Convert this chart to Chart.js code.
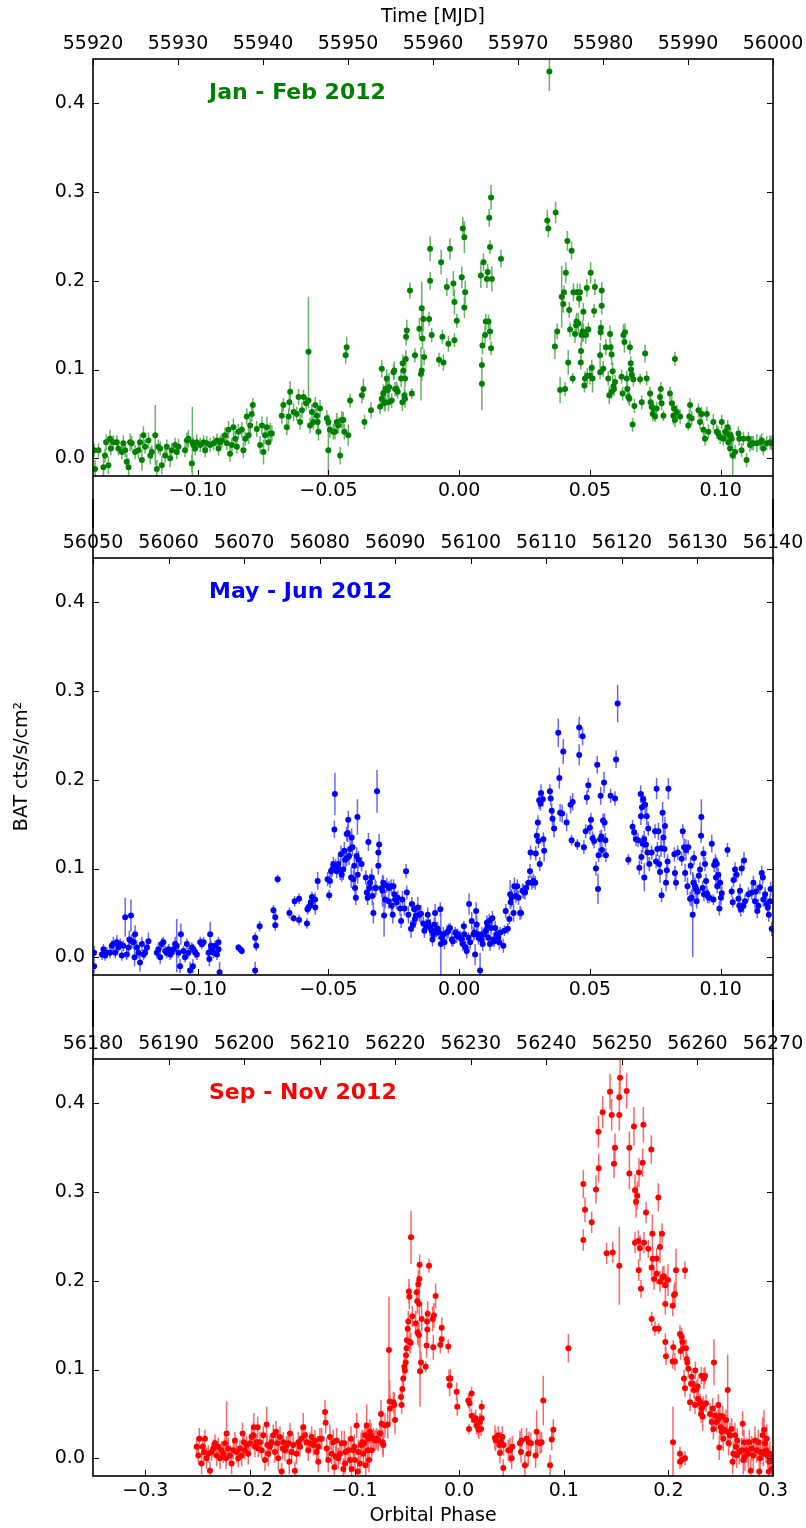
<!DOCTYPE html>
<html>
<head>
<meta charset="utf-8">
<script src="https://cdn.jsdelivr.net/npm/chart.js@4/dist/chart.umd.min.js"></script>
<style>
  html, body { margin: 0; padding: 0; background: #fff; }
  #wrap { position: relative; width: 806px; height: 1528px; overflow: hidden; background: #fff; }
  #wrap canvas { position: absolute; left: 0; }
</style>
</head>
<body>
<div id="wrap">
  <canvas id="panelJanFeb" width="806" height="528" style="top:0px"></canvas>
  <canvas id="panelMayJun" width="806" height="528" style="top:499px"></canvas>
  <canvas id="panelSepNov" width="806" height="528" style="top:1000px"></canvas>
</div>
<script>
// ---- axis settings -------------------------------------------------------
const rateTicks = [0.0, 0.1, 0.2, 0.3, 0.4];
const phaseTicksNarrow = [-0.10, -0.05, 0.00, 0.05, 0.10];
const phaseTicksWide = [-0.3, -0.2, -0.1, 0.0, 0.1, 0.2, 0.3];
const mjdTicksJanFeb = [55920, 55930, 55940, 55950, 55960, 55970, 55980, 55990, 56000];
const mjdTicksMayJun = [56050, 56060, 56070, 56080, 56090, 56100, 56110, 56120, 56130, 56140];
const mjdTicksSepNov = [56180, 56190, 56200, 56210, 56220, 56230, 56240, 56250, 56260, 56270];

// ---- BAT light curves: [orbital phase, rate (cts/s/cm^2), 1-sigma error] ----
const janFebPoints = [
[-0.1396,0.009,0.008],[-0.1392,-0.012,0.010],[-0.1379,0.009,0.008],[-0.1360,-0.010,0.010],[-0.1354,0.003,0.008],[-0.1350,0.018,0.009],[-0.1341,-0.008,0.010],[-0.1335,0.022,0.010],[-0.1332,0.011,0.008],[-0.1322,0.018,0.008],[-0.1309,0.018,0.008],[-0.1303,0.011,0.008],[-0.1290,0.007,0.008],[-0.1284,0.017,0.009],[-0.1277,0.009,0.008],[-0.1271,-0.004,0.009],[-0.1264,-0.010,0.010],[-0.1258,0.018,0.010],[-0.1252,0.017,0.008],[-0.1239,0.007,0.008],[-0.1226,0.009,0.010],[-0.1220,0.018,0.009],[-0.1213,-0.002,0.012],[-0.1207,0.026,0.010],[-0.1201,0.013,0.008],[-0.1188,0.020,0.009],[-0.1181,0.003,0.010],[-0.1175,0.007,0.008],[-0.1162,0.026,0.034],[-0.1156,-0.012,0.010],[-0.1150,0.013,0.008],[-0.1143,0.011,0.008],[-0.1137,-0.008,0.010],[-0.1124,0.003,0.008],[-0.1118,0.013,0.008],[-0.1105,0.000,0.010],[-0.1099,0.009,0.008],[-0.1086,0.015,0.008],[-0.1080,0.007,0.008],[-0.1073,0.013,0.009],[-0.1048,0.009,0.008],[-0.1041,0.020,0.009],[-0.1035,0.022,0.010],[-0.1022,-0.006,0.010],[-0.1020,0.018,0.040],[-0.1016,0.015,0.008],[-0.1009,0.011,0.008],[-0.1003,0.018,0.009],[-0.0990,0.015,0.008],[-0.0977,0.018,0.008],[-0.0971,0.009,0.008],[-0.0965,0.017,0.008],[-0.0952,0.015,0.008],[-0.0939,0.017,0.008],[-0.0926,0.020,0.008],[-0.0920,0.011,0.008],[-0.0914,0.018,0.008],[-0.0907,0.020,0.008],[-0.0895,0.026,0.009],[-0.0888,0.017,0.008],[-0.0882,0.032,0.010],[-0.0876,0.005,0.009],[-0.0869,0.015,0.008],[-0.0863,0.035,0.010],[-0.0856,0.022,0.009],[-0.0850,0.013,0.008],[-0.0844,0.030,0.009],[-0.0831,0.032,0.009],[-0.0825,0.009,0.009],[-0.0818,0.022,0.008],[-0.0812,0.047,0.009],[-0.0805,0.026,0.010],[-0.0799,0.037,0.009],[-0.0793,0.050,0.009],[-0.0789,0.060,0.008],[-0.0774,0.033,0.009],[-0.0761,0.015,0.010],[-0.0754,0.037,0.010],[-0.0748,0.007,0.014],[-0.0742,0.026,0.010],[-0.0735,0.035,0.012],[-0.0729,0.018,0.010],[-0.0722,0.028,0.012],[-0.0716,0.028,0.009],
[-0.0678,0.048,0.009],[-0.0672,0.060,0.008],[-0.0659,0.035,0.009],[-0.0652,0.047,0.009],[-0.0649,0.063,0.010],[-0.0646,0.075,0.012],[-0.0633,0.052,0.010],[-0.0621,0.050,0.008],[-0.0614,0.069,0.009],[-0.0608,0.041,0.009],[-0.0601,0.054,0.009],[-0.0595,0.069,0.008],[-0.0585,0.062,0.008],[-0.0576,0.120,0.062],[-0.0576,0.065,0.009],[-0.0570,0.037,0.009],[-0.0563,0.052,0.009],[-0.0557,0.041,0.009],[-0.0550,0.060,0.009],[-0.0544,0.048,0.009],[-0.0538,0.030,0.010],
[-0.0541,0.041,0.009],[-0.0532,0.056,0.010],[-0.0506,0.045,0.009],[-0.0500,0.009,0.030],[-0.0500,0.041,0.008],[-0.0494,0.032,0.009],[-0.0481,0.030,0.009],[-0.0475,0.030,0.009],[-0.0468,0.041,0.010],[-0.0462,0.037,0.009],[-0.0455,0.003,0.010],[-0.0449,0.043,0.010],[-0.0443,0.043,0.009],[-0.0439,0.030,0.009],[-0.0434,0.116,0.010],[-0.0430,0.125,0.012],[-0.0424,0.026,0.012],[-0.0417,0.065,0.008],[-0.0372,0.071,0.009],[-0.0366,0.078,0.012],[-0.0362,0.041,0.008],[-0.0337,0.054,0.009],[-0.0302,0.058,0.008],[-0.0296,0.067,0.010],[-0.0296,0.101,0.010],[-0.0290,0.073,0.010],[-0.0286,0.062,0.009],[-0.0283,0.063,0.010],[-0.0281,0.078,0.012],[-0.0277,0.090,0.010],[-0.0273,0.077,0.010],[-0.0270,0.063,0.010],[-0.0268,0.080,0.016],[-0.0258,0.065,0.008],[-0.0251,0.097,0.009],[-0.0248,0.099,0.010],[-0.0245,0.078,0.008],[-0.0239,0.078,0.008],[-0.0235,0.075,0.008],[-0.0222,0.090,0.010],[-0.0217,0.063,0.010],[-0.0216,0.107,0.010],[-0.0213,0.099,0.012],[-0.0209,0.071,0.010],[-0.0207,0.067,0.010],[-0.0207,0.090,0.010],[-0.0204,0.112,0.010],[-0.0203,0.137,0.010],[-0.0200,0.144,0.012],[-0.0188,0.189,0.009],[-0.0181,0.073,0.006],[-0.0169,0.116,0.008],[-0.0152,0.146,0.012],[-0.0146,0.095,0.030],[-0.0143,0.099,0.012],[-0.0143,0.169,0.030],[-0.0140,0.135,0.012],[-0.0137,0.157,0.014],[-0.0134,0.114,0.009],[-0.0115,0.157,0.008],[-0.0111,0.200,0.010],[-0.0111,0.236,0.014],[-0.0105,0.139,0.008],[-0.0077,0.111,0.008],[-0.0069,0.221,0.014],[-0.0064,0.137,0.008],[-0.0060,0.108,0.009],[-0.0047,0.193,0.010],[-0.0041,0.129,0.009],[-0.0035,0.236,0.012],[-0.0022,0.197,0.014],[-0.0018,0.176,0.014],[-0.0018,0.133,0.008],[-0.0009,0.155,0.008],[0.0010,0.204,0.012],[0.0014,0.259,0.013],[0.0020,0.249,0.018],[0.0020,0.170,0.012],[0.0023,0.187,0.013],[0.0083,0.206,0.014],[0.0087,0.084,0.030],[0.0087,0.105,0.008],[0.0089,0.127,0.010],[0.0093,0.221,0.010],[0.0099,0.139,0.010],[0.0102,0.154,0.009],[0.0106,0.202,0.010],[0.0109,0.210,0.009],[0.0112,0.154,0.008],[0.0115,0.271,0.010],[0.0118,0.143,0.010],[0.0118,0.238,0.008],[0.0122,0.124,0.008],[0.0122,0.294,0.014],[0.0125,0.202,0.014],[0.0160,0.225,0.010],
[0.0345,0.436,0.022],[0.0337,0.268,0.012],[0.0341,0.259,0.010],[0.0369,0.277,0.012],[0.0366,0.126,0.014],[0.0375,0.143,0.009],[0.0386,0.077,0.015],[0.0392,0.182,0.035],[0.0398,0.174,0.010],[0.0401,0.187,0.008],[0.0405,0.078,0.008],[0.0408,0.209,0.012],[0.0414,0.245,0.011],[0.0417,0.108,0.014],[0.0421,0.167,0.009],[0.0424,0.145,0.008],[0.0430,0.234,0.010],[0.0434,0.090,0.006],[0.0437,0.187,0.010],[0.0443,0.140,0.010],[0.0447,0.150,0.010],[0.0449,0.154,0.010],[0.0452,0.187,0.010],[0.0456,0.152,0.012],[0.0459,0.180,0.010],[0.0462,0.187,0.010],[0.0465,0.108,0.008],[0.0466,0.121,0.010],[0.0468,0.139,0.012],[0.0472,0.143,0.012],[0.0475,0.165,0.010],[0.0475,0.142,0.010],[0.0479,0.082,0.008],[0.0481,0.090,0.008],[0.0484,0.139,0.010],[0.0488,0.192,0.010],[0.0490,0.093,0.009],[0.0494,0.145,0.008],[0.0500,0.093,0.010],[0.0503,0.209,0.012],[0.0507,0.102,0.009],[0.0510,0.090,0.016],[0.0516,0.166,0.008],[0.0519,0.193,0.009],[0.0539,0.097,0.008],[0.0539,0.116,0.014],[0.0541,0.142,0.009],[0.0542,0.147,0.009],[0.0545,0.172,0.010],[0.0545,0.189,0.010],[0.0551,0.101,0.009],[0.0561,0.125,0.009],[0.0570,0.090,0.008],[0.0574,0.071,0.010],[0.0577,0.140,0.010],[0.0579,0.125,0.008],[0.0583,0.075,0.008],[0.0583,0.117,0.012],[0.0587,0.098,0.010],[0.0590,0.081,0.008],[0.0592,0.078,0.008],[0.0596,0.086,0.008],[0.0621,0.092,0.008],[0.0625,0.073,0.008],[0.0628,0.139,0.012],[0.0632,0.131,0.012],[0.0634,0.142,0.010],[0.0641,0.090,0.009],[0.0643,0.078,0.009],[0.0647,0.069,0.008],[0.0651,0.067,0.008],[0.0653,0.125,0.008],[0.0656,0.107,0.008],[0.0657,0.100,0.010],[0.0660,0.094,0.008],[0.0663,0.038,0.008],[0.0666,0.089,0.008],[0.0670,0.059,0.008],[0.0692,0.089,0.006],[0.0698,0.063,0.008],[0.0711,0.118,0.010],[0.0717,0.090,0.008],[0.0730,0.073,0.008],[0.0732,0.063,0.008],[0.0736,0.058,0.008],[0.0740,0.050,0.008],[0.0743,0.056,0.008],[0.0749,0.047,0.006],[0.0755,0.056,0.008],[0.0768,0.069,0.008],[0.0771,0.078,0.008],[0.0774,0.062,0.008],[0.0781,0.048,0.006],[0.0806,0.073,0.008],[0.0813,0.062,0.008],[0.0819,0.048,0.010],[0.0822,0.056,0.008],[0.0825,0.112,0.008],[0.0825,0.043,0.008],[0.0832,0.052,0.008],[0.0845,0.047,0.008],[0.0876,0.037,0.006],[0.0880,0.047,0.008],[0.0883,0.060,0.008],[0.0889,0.045,0.008],[0.0915,0.054,0.008],[0.0921,0.041,0.008],[0.0927,0.050,0.008],[0.0934,0.032,0.008],[0.0940,0.022,0.008],[0.0947,0.050,0.008],[0.0953,0.030,0.008],[0.0972,0.041,0.009],[0.0985,0.030,0.008],[0.0991,0.028,0.008],[0.0998,0.024,0.008],[0.1004,0.041,0.008],[0.1010,0.022,0.008],[0.1017,0.030,0.008],[0.1023,0.028,0.008],[0.1027,0.035,0.008],[0.1029,0.018,0.008],[0.1033,0.026,0.008],[0.1036,0.011,0.008],[0.1038,0.026,0.008],[0.1042,0.022,0.008],[0.1046,0.003,0.022],[0.1055,0.007,0.008],[0.1068,0.028,0.008],[0.1071,0.022,0.008],[0.1080,0.009,0.008],[0.1087,0.022,0.008],[0.1099,-0.002,0.008],[0.1106,0.022,0.008],[0.1112,0.015,0.008],[0.1119,0.017,0.008],[0.1125,0.017,0.008],[0.1138,0.017,0.010],[0.1151,0.018,0.008],[0.1157,0.020,0.008],[0.1163,0.011,0.008],[0.1176,0.017,0.008],[0.1189,0.018,0.008],[0.1195,0.017,0.008]
];

const mayJunPoints = [
[-0.1396,0.005,0.008],[-0.1396,-0.010,0.008],[-0.1366,0.003,0.006],[-0.1360,0.009,0.006],[-0.1354,0.002,0.006],[-0.1347,0.005,0.006],[-0.1335,0.005,0.006],[-0.1328,0.013,0.006],[-0.1322,0.015,0.008],[-0.1315,0.005,0.006],[-0.1309,0.017,0.008],[-0.1303,0.011,0.006],[-0.1296,0.015,0.006],[-0.1290,0.002,0.006],[-0.1284,0.013,0.006],[-0.1277,0.045,0.022],[-0.1271,0.003,0.006],[-0.1264,0.011,0.008],[-0.1261,0.020,0.010],[-0.1255,0.047,0.018],[-0.1252,0.018,0.008],[-0.1245,0.017,0.008],[-0.1241,0.000,0.010],[-0.1239,0.026,0.010],[-0.1232,0.011,0.008],[-0.1226,0.005,0.006],[-0.1220,-0.006,0.010],[-0.1213,0.015,0.008],[-0.1207,0.003,0.006],[-0.1201,0.005,0.006],[-0.1194,0.011,0.008],[-0.1188,0.018,0.010],[-0.1156,0.005,0.006],[-0.1150,0.009,0.008],[-0.1143,0.000,0.008],[-0.1137,0.015,0.006],[-0.1131,0.017,0.006],[-0.1124,0.007,0.006],[-0.1118,0.005,0.006],[-0.1111,0.009,0.006],[-0.1105,0.003,0.006],[-0.1099,0.005,0.006],[-0.1092,0.009,0.006],[-0.1086,0.015,0.008],[-0.1080,0.013,0.030],[-0.1073,0.005,0.006],[-0.1067,-0.010,0.008],[-0.1064,0.026,0.012],[-0.1054,0.007,0.006],[-0.1048,0.000,0.006],[-0.1041,0.015,0.006],[-0.1035,0.005,0.006],[-0.1029,-0.015,0.010],[-0.1022,0.011,0.006],[-0.1018,-0.010,0.008],[-0.1016,0.009,0.006],[-0.1009,0.005,0.006],[-0.1003,0.003,0.006],[-0.0990,0.017,0.006],[-0.0984,0.015,0.006],[-0.0977,0.017,0.006],[-0.0958,0.005,0.006],[-0.0955,-0.002,0.008],[-0.0952,0.026,0.014],[-0.0949,0.013,0.006],[-0.0946,0.009,0.006],[-0.0939,0.005,0.006],[-0.0933,0.013,0.006],[-0.0926,0.003,0.006],[-0.0920,0.017,0.006],[-0.0920,0.009,0.006],[-0.0916,-0.017,0.012],[-0.0844,0.011,0.004],[-0.0837,0.009,0.004],[-0.0831,0.007,0.004],[-0.0780,0.022,0.006],[-0.0780,-0.015,0.010],[-0.0776,0.013,0.006],[-0.0763,0.035,0.006],[-0.0710,0.053,0.006],[-0.0703,0.045,0.006],[-0.0703,0.036,0.006],[-0.0694,0.088,0.005],[-0.0649,0.050,0.006],[-0.0633,0.044,0.004],[-0.0629,0.063,0.006],[-0.0612,0.042,0.006],[-0.0612,0.066,0.006],[-0.0582,0.038,0.006],[-0.0580,0.054,0.006],[-0.0576,0.056,0.006],[-0.0570,0.058,0.006],[-0.0567,0.062,0.006],[-0.0563,0.068,0.006],[-0.0557,0.065,0.006],[-0.0550,0.056,0.008],[-0.0541,0.086,0.010],
[-0.0551,0.065,0.008],[-0.0503,0.088,0.008],[-0.0497,0.070,0.006],[-0.0494,0.086,0.008],[-0.0490,0.097,0.008],[-0.0485,0.099,0.008],[-0.0481,0.105,0.008],[-0.0477,0.144,0.010],[-0.0475,0.184,0.024],[-0.0472,0.103,0.008],[-0.0468,0.097,0.008],[-0.0462,0.105,0.010],[-0.0455,0.099,0.012],[-0.0452,0.116,0.010],[-0.0449,0.093,0.008],[-0.0443,0.099,0.012],[-0.0439,0.120,0.010],[-0.0436,0.110,0.012],[-0.0430,0.112,0.010],[-0.0430,0.139,0.008],[-0.0426,0.140,0.010],[-0.0424,0.155,0.010],[-0.0421,0.114,0.010],[-0.0417,0.122,0.012],[-0.0413,0.090,0.012],[-0.0411,0.135,0.010],[-0.0408,0.124,0.010],[-0.0404,0.088,0.010],[-0.0401,0.103,0.010],[-0.0398,0.078,0.008],[-0.0395,0.067,0.008],[-0.0392,0.114,0.010],[-0.0389,0.158,0.020],[-0.0388,0.093,0.010],[-0.0385,0.110,0.010],[-0.0373,0.105,0.008],[-0.0357,0.090,0.008],[-0.0353,0.073,0.010],[-0.0350,0.067,0.008],[-0.0347,0.130,0.010],[-0.0343,0.078,0.010],[-0.0341,0.084,0.010],[-0.0334,0.090,0.010],[-0.0332,0.069,0.010],[-0.0328,0.050,0.012],[-0.0321,0.078,0.010],[-0.0318,0.078,0.008],[-0.0314,0.187,0.024],[-0.0309,0.118,0.010],[-0.0309,0.103,0.010],[-0.0306,0.127,0.012],[-0.0296,0.078,0.010],[-0.0293,0.075,0.018],[-0.0290,0.084,0.008],[-0.0287,0.047,0.024],[-0.0283,0.065,0.010],[-0.0277,0.081,0.008],[-0.0270,0.063,0.008],[-0.0268,0.078,0.008],[-0.0260,0.080,0.008],[-0.0258,0.058,0.008],[-0.0254,0.048,0.010],[-0.0251,0.080,0.008],[-0.0248,0.071,0.008],[-0.0245,0.065,0.008],[-0.0239,0.062,0.008],[-0.0235,0.067,0.008],[-0.0226,0.055,0.008],[-0.0222,0.041,0.008],[-0.0217,0.065,0.010],[-0.0209,0.055,0.008],[-0.0203,0.097,0.008],[-0.0200,0.073,0.008],[-0.0194,0.048,0.010],[-0.0184,0.032,0.010],[-0.0181,0.060,0.008],[-0.0177,0.037,0.008],[-0.0171,0.054,0.008],[-0.0169,0.043,0.010],[-0.0165,0.047,0.010],[-0.0158,0.056,0.012],[-0.0152,0.048,0.008],[-0.0146,0.049,0.010],[-0.0137,0.038,0.008],[-0.0133,0.030,0.008],[-0.0126,0.035,0.008],[-0.0120,0.048,0.008],[-0.0118,0.039,0.008],[-0.0111,0.033,0.010],[-0.0105,0.030,0.008],[-0.0102,0.020,0.008],[-0.0098,0.026,0.008],[-0.0095,0.037,0.008],[-0.0092,0.050,0.010],[-0.0088,0.030,0.008],[-0.0082,0.032,0.008],[-0.0079,0.028,0.008],[-0.0072,0.054,0.008],[-0.0070,0.015,0.035],[-0.0066,0.022,0.008],[-0.0060,0.026,0.008],[-0.0056,0.017,0.008],[-0.0047,0.028,0.008],[-0.0041,0.030,0.008],[-0.0035,0.033,0.006],[-0.0028,0.020,0.008],[-0.0024,0.018,0.006],[-0.0015,0.028,0.006],[-0.0009,0.024,0.008],[-0.0005,0.026,0.006],[0.0004,0.022,0.008],[0.0010,0.020,0.008],[0.0014,0.015,0.008],[0.0018,0.035,0.006],[0.0020,0.026,0.008],[0.0025,0.011,0.008],[0.0029,0.007,0.008],[0.0036,0.022,0.006],[0.0038,0.060,0.012],[0.0042,0.017,0.008],[0.0048,0.041,0.010],[0.0055,0.026,0.008],[0.0058,0.028,0.008],[0.0061,0.003,0.012],[0.0065,0.052,0.010],[0.0067,0.037,0.010],[0.0071,0.026,0.008],[0.0074,0.022,0.008],[0.0080,-0.015,0.020],[0.0084,0.020,0.008],[0.0087,0.026,0.008],[0.0090,0.015,0.008],[0.0097,0.026,0.008],[0.0102,0.030,0.008],[0.0106,0.039,0.008],[0.0109,0.035,0.008],[0.0112,0.022,0.008],[0.0115,0.041,0.008],[0.0118,0.015,0.008],[0.0122,0.033,0.008],[0.0127,0.044,0.008],[0.0131,0.020,0.008],[0.0135,0.018,0.006],[0.0138,0.033,0.008],[0.0144,0.026,0.008],[0.0150,0.022,0.008],[0.0153,0.017,0.008],[0.0157,0.028,0.006],[0.0169,0.013,0.008],[0.0173,0.030,0.006],[0.0178,0.052,0.008],[0.0186,0.032,0.006],[0.0192,0.043,0.006],[0.0195,0.071,0.016],[0.0197,0.062,0.008],[0.0201,0.067,0.010],[0.0208,0.050,0.010],[0.0211,0.080,0.010],[0.0217,0.069,0.008],[0.0222,0.080,0.008],[0.0227,0.067,0.008],[0.0233,0.050,0.008],[0.0237,0.050,0.006],[0.0242,0.075,0.008],[0.0246,0.074,0.008],[0.0252,0.073,0.008],[0.0256,0.078,0.008],[0.0265,0.084,0.008],[0.0271,0.097,0.008],[0.0273,0.118,0.008],[0.0278,0.084,0.008],[0.0284,0.086,0.008],[0.0291,0.084,0.008],[0.0293,0.117,0.008],[0.0297,0.137,0.008],[0.0301,0.152,0.008],[0.0303,0.131,0.008],[0.0306,0.177,0.010],[0.0308,0.105,0.008],[0.0311,0.173,0.008],[0.0313,0.185,0.010],[0.0320,0.178,0.008],[0.0325,0.120,0.012],
[0.0322,0.133,0.008],[0.0347,0.187,0.008],[0.0350,0.179,0.008],[0.0354,0.165,0.008],[0.0357,0.156,0.008],[0.0363,0.145,0.010],[0.0379,0.253,0.016],[0.0383,0.202,0.012],[0.0386,0.163,0.010],[0.0394,0.162,0.010],[0.0398,0.232,0.014],[0.0411,0.152,0.010],[0.0426,0.172,0.010],[0.0430,0.132,0.006],[0.0434,0.175,0.010],[0.0452,0.127,0.006],[0.0459,0.259,0.012],[0.0459,0.228,0.012],[0.0472,0.249,0.010],[0.0477,0.124,0.008],[0.0484,0.142,0.008],[0.0488,0.180,0.008],[0.0494,0.194,0.008],[0.0500,0.146,0.008],[0.0504,0.155,0.008],[0.0510,0.134,0.008],[0.0516,0.131,0.008],[0.0523,0.100,0.008],[0.0528,0.217,0.010],[0.0531,0.077,0.017],[0.0533,0.115,0.008],[0.0539,0.133,0.010],[0.0541,0.182,0.010],[0.0544,0.136,0.008],[0.0546,0.121,0.008],[0.0550,0.154,0.008],[0.0554,0.197,0.012],[0.0556,0.152,0.010],[0.0559,0.132,0.008],[0.0561,0.115,0.008],[0.0579,0.182,0.008],[0.0596,0.179,0.008],[0.0600,0.223,0.010],[0.0606,0.286,0.021],[0.0647,0.110,0.006],[0.0663,0.147,0.008],[0.0669,0.141,0.008],[0.0676,0.133,0.008],[0.0684,0.132,0.008],[0.0689,0.101,0.008],[0.0694,0.184,0.010],[0.0695,0.159,0.010],[0.0697,0.113,0.008],[0.0699,0.169,0.010],[0.0702,0.128,0.010],[0.0704,0.178,0.008],[0.0707,0.133,0.010],[0.0708,0.090,0.016],[0.0711,0.172,0.010],[0.0714,0.127,0.010],[0.0717,0.159,0.010],[0.0720,0.118,0.010],[0.0723,0.145,0.008],[0.0727,0.105,0.008],[0.0736,0.118,0.008],[0.0749,0.142,0.008],[0.0753,0.108,0.008],[0.0755,0.190,0.012],[0.0758,0.122,0.008],[0.0762,0.142,0.010],[0.0765,0.105,0.010],[0.0768,0.096,0.012],[0.0772,0.123,0.010],[0.0774,0.070,0.008],[0.0778,0.163,0.012],[0.0781,0.135,0.012],[0.0785,0.122,0.010],[0.0787,0.148,0.010],[0.0791,0.084,0.010],[0.0794,0.098,0.008],[0.0797,0.108,0.008],[0.0800,0.190,0.012],[0.0823,0.116,0.008],[0.0825,0.095,0.008],[0.0829,0.084,0.008],[0.0836,0.118,0.008],[0.0851,0.111,0.008],[0.0855,0.142,0.008],[0.0860,0.124,0.010],[0.0864,0.095,0.010],[0.0867,0.121,0.012],[0.0873,0.080,0.010],[0.0876,0.124,0.008],[0.0883,0.066,0.008],[0.0885,0.103,0.010],[0.0889,0.067,0.010],[0.0893,0.048,0.048],[0.0896,0.084,0.010],[0.0898,0.112,0.008],[0.0902,0.080,0.010],[0.0906,0.077,0.010],[0.0908,0.063,0.008],[0.0912,0.074,0.008],[0.0916,0.092,0.008],[0.0921,0.099,0.008],[0.0925,0.137,0.008],[0.0926,0.158,0.020],[0.0931,0.078,0.008],[0.0934,0.117,0.008],[0.0936,0.071,0.008],[0.0940,0.105,0.008],[0.0944,0.086,0.008],[0.0947,0.072,0.008],[0.0950,0.069,0.008],[0.0957,0.067,0.006],[0.0966,0.128,0.010],[0.0972,0.065,0.006],[0.0975,0.104,0.008],[0.0980,0.108,0.008],[0.0982,0.090,0.008],[0.0985,0.105,0.008],[0.0987,0.080,0.008],[0.0991,0.093,0.008],[0.0995,0.055,0.008],[0.0998,0.084,0.008],[0.1001,0.067,0.008],[0.1004,0.072,0.008],[0.1026,0.121,0.008],[0.1042,0.074,0.006],[0.1046,0.062,0.006],[0.1049,0.087,0.008],[0.1055,0.099,0.008],[0.1061,0.093,0.008],[0.1068,0.066,0.008],[0.1071,0.058,0.008],[0.1074,0.075,0.008],[0.1077,0.054,0.008],[0.1080,0.100,0.008],[0.1087,0.058,0.008],[0.1089,0.109,0.010],[0.1093,0.063,0.008],[0.1106,0.071,0.008],[0.1119,0.073,0.008],[0.1125,0.084,0.008],[0.1131,0.063,0.008],[0.1135,0.074,0.008],[0.1140,0.052,0.008],[0.1144,0.058,0.008],[0.1150,0.079,0.008],[0.1157,0.095,0.008],[0.1161,0.090,0.008],[0.1163,0.065,0.008],[0.1170,0.071,0.008],[0.1176,0.060,0.008],[0.1180,0.056,0.008],[0.1184,0.048,0.008],[0.1189,0.063,0.008],[0.1191,0.077,0.008],[0.1195,0.032,0.008]
];

const sepNovPoints = [
[-0.2509,0.013,0.010],[-0.2493,0.003,0.010],[-0.2484,0.022,0.012],[-0.2462,-0.006,0.012],[-0.2452,0.013,0.010],[-0.2439,0.007,0.010],[-0.2430,0.022,0.010],[-0.2414,0.000,0.012],[-0.2398,0.005,0.010],[-0.2382,-0.014,0.010],[-0.2366,0.007,0.010],[-0.2350,0.011,0.010],[-0.2334,0.017,0.010],[-0.2318,0.003,0.012],[-0.2302,0.013,0.010],[-0.2286,0.000,0.012],[-0.2271,0.009,0.010],[-0.2255,0.005,0.010],[-0.2239,0.017,0.010],[-0.2229,0.000,0.012],[-0.2223,0.028,0.036],[-0.2207,0.011,0.012],[-0.2191,0.003,0.010],[-0.2175,-0.006,0.012],[-0.2159,0.009,0.010],[-0.2143,0.020,0.010],[-0.2127,0.007,0.012],[-0.2111,0.000,0.010],[-0.2095,0.011,0.010],[-0.2079,0.003,0.012],[-0.2070,0.028,0.012],[-0.2057,0.018,0.012],[-0.2048,0.009,0.010],[-0.2032,0.015,0.010],[-0.2016,0.005,0.012],[-0.2000,0.017,0.010],[-0.1984,0.024,0.012],[-0.1968,0.026,0.014],[-0.1962,0.035,0.016],[-0.1952,0.013,0.012],[-0.1936,0.018,0.010],[-0.1926,0.035,0.012],[-0.1920,0.011,0.010],[-0.1904,0.018,0.012],[-0.1888,0.009,0.010],[-0.1872,0.026,0.010],[-0.1856,-0.002,0.012],[-0.1840,0.038,0.020],[-0.1834,0.015,0.012],[-0.1825,0.005,0.014],[-0.1809,0.013,0.012],[-0.1793,0.018,0.010],[-0.1777,0.026,0.012],[-0.1761,0.007,0.012],[-0.1751,0.030,0.012],[-0.1738,0.017,0.012],[-0.1729,0.000,0.014],[-0.1713,0.024,0.012],[-0.1697,-0.015,0.010],[-0.1687,0.011,0.012],[-0.1681,0.018,0.012],[-0.1665,0.009,0.012],[-0.1649,0.015,0.010],[-0.1633,0.017,0.012],[-0.1624,-0.004,0.014],[-0.1617,0.028,0.012],[-0.1601,0.007,0.012],[-0.1586,0.015,0.012],[-0.1570,-0.014,0.010],[-0.1554,0.005,0.012],[-0.1538,0.018,0.012],[-0.1522,0.013,0.012],[-0.1506,0.022,0.012],[-0.1490,0.035,0.016],[-0.1474,0.026,0.012],[-0.1458,0.018,0.012],[-0.1442,0.009,0.012],[-0.1426,0.017,0.012],[-0.1410,0.024,0.012],[-0.1394,0.015,0.012],[-0.1378,0.020,0.012],[-0.1362,0.007,0.012],[-0.1347,0.013,0.012],[-0.1331,0.022,0.012],
[-0.1346,-0.004,0.012],[-0.1314,0.022,0.012],[-0.1282,0.052,0.014],[-0.1276,0.040,0.012],[-0.1266,0.011,0.012],[-0.1251,-0.002,0.014],[-0.1235,0.024,0.014],[-0.1219,0.005,0.012],[-0.1203,0.018,0.014],[-0.1193,-0.010,0.012],[-0.1180,0.002,0.012],[-0.1171,0.020,0.014],[-0.1155,0.000,0.012],[-0.1139,0.005,0.012],[-0.1123,0.017,0.014],[-0.1107,-0.012,0.012],[-0.1098,0.017,0.014],[-0.1091,-0.006,0.012],[-0.1085,0.007,0.012],[-0.1059,0.009,0.014],[-0.1043,-0.002,0.014],[-0.1034,0.022,0.014],[-0.1028,-0.012,0.012],[-0.1012,0.009,0.012],[-0.1002,0.013,0.014],[-0.0996,-0.002,0.012],[-0.0980,0.037,0.014],[-0.0970,-0.015,0.012],[-0.0964,0.007,0.014],[-0.0948,-0.006,0.012],[-0.0938,0.015,0.014],[-0.0926,0.018,0.014],[-0.0916,0.005,0.014],[-0.0907,0.017,0.014],[-0.0900,0.026,0.014],[-0.0894,-0.008,0.012],[-0.0884,0.037,0.024],[-0.0875,0.009,0.014],[-0.0868,0.022,0.012],[-0.0862,-0.002,0.014],[-0.0852,0.030,0.014],[-0.0843,0.026,0.014],[-0.0836,0.009,0.012],[-0.0820,0.022,0.012],[-0.0805,0.020,0.012],[-0.0789,0.022,0.012],[-0.0773,0.020,0.012],[-0.0757,0.028,0.014],[-0.0747,0.050,0.016],[-0.0741,0.039,0.016],[-0.0731,0.018,0.014],[-0.0725,0.015,0.014],[-0.0709,0.037,0.014],[-0.0683,0.038,0.016],[-0.0671,0.122,0.060],[-0.0664,0.064,0.024],[-0.0661,0.056,0.016],[-0.0629,0.063,0.012],[-0.0620,0.060,0.014],[-0.0613,0.043,0.016],[-0.0556,0.069,0.010],[-0.0550,0.060,0.010],[-0.0543,0.078,0.010],[-0.0534,0.090,0.010],[-0.0524,0.103,0.010],[-0.0518,0.099,0.010],[-0.0511,0.108,0.010],[-0.0508,0.116,0.012],[-0.0502,0.124,0.012],[-0.0499,0.133,0.012],[-0.0492,0.146,0.012],[-0.0486,0.154,0.012],[-0.0480,0.188,0.014],[-0.0476,0.182,0.014],[-0.0470,0.131,0.012],[-0.0464,0.130,0.012],[-0.0460,0.249,0.030],[-0.0448,0.160,0.012],[-0.0416,0.152,0.014],[-0.0406,0.187,0.014],[-0.0400,0.177,0.014],[-0.0397,0.142,0.014],[-0.0390,0.196,0.016],[-0.0384,0.139,0.014],[-0.0381,0.174,0.014],[-0.0381,0.202,0.014],[-0.0378,0.218,0.012],[-0.0374,0.098,0.040],[-0.0365,0.108,0.012],[-0.0358,0.157,0.014],[-0.0320,0.103,0.006],[-0.0311,0.127,0.014],[-0.0307,0.154,0.014],[-0.0304,0.145,0.014],[-0.0301,0.163,0.014],[-0.0288,0.217,0.008],[-0.0253,0.157,0.014],[-0.0247,0.125,0.014],[-0.0241,0.161,0.014],[-0.0225,0.183,0.014],[-0.0180,0.128,0.010],[-0.0167,0.134,0.010],[-0.0167,0.147,0.012],[-0.0104,0.126,0.008],[-0.0097,0.090,0.010],[-0.0091,0.082,0.012],[-0.0084,0.090,0.010],[-0.0024,0.075,0.010],[-0.0018,0.058,0.010],[0.0088,0.065,0.008],[0.0094,0.033,0.006],[0.0100,0.062,0.010],[0.0119,0.073,0.008],[0.0119,0.048,0.008],[0.0145,0.043,0.008],[0.0158,0.045,0.010],[0.0167,0.037,0.010],[0.0183,0.033,0.010],[0.0189,0.032,0.010],[0.0199,0.041,0.010],[0.0209,0.033,0.008],[0.0215,0.045,0.008],[0.0215,0.058,0.008],[0.0342,0.023,0.014],[0.0349,0.020,0.012],[0.0374,0.026,0.010],[0.0384,0.015,0.012],[0.0390,0.006,0.012],[0.0400,0.018,0.012],[0.0413,0.024,0.012],[0.0422,-0.011,0.010],[0.0425,0.015,0.012],[0.0470,0.009,0.012],[0.0486,0.009,0.014],[0.0502,0.000,0.012],[0.0508,0.013,0.012],[0.0581,0.017,0.014],[0.0591,0.007,0.012],[0.0597,0.020,0.014],[0.0629,-0.008,0.012],[0.0645,0.022,0.012],[0.0661,0.005,0.014],[0.0667,0.018,0.012],[0.0686,0.017,0.012],[0.0731,0.003,0.014],[0.0741,0.030,0.024],[0.0750,0.018,0.014],[0.0773,0.017,0.012],[0.0788,0.018,0.012],[0.0804,0.065,0.028],
[0.0869,-0.008,0.012],[0.0885,0.021,0.012],[0.0900,0.032,0.012],[0.1044,0.124,0.016],[0.1187,0.309,0.016],[0.1203,0.280,0.014],[0.1187,0.246,0.012],[0.1267,0.266,0.012],[0.1308,0.303,0.016],[0.1331,0.368,0.018],[0.1334,0.327,0.016],[0.1372,0.390,0.018],[0.1410,0.231,0.012],[0.1442,0.413,0.020],[0.1458,0.387,0.018],[0.1468,0.232,0.012],[0.1480,0.332,0.016],[0.1490,0.350,0.016],[0.1531,0.217,0.044],[0.1531,0.407,0.018],[0.1538,0.429,0.020],[0.1531,0.387,0.018],[0.1601,0.414,0.020],[0.1627,0.350,0.018],[0.1627,0.321,0.018],[0.1671,0.374,0.022],[0.1681,0.302,0.018],[0.1691,0.289,0.018],[0.1703,0.296,0.016],[0.1681,0.243,0.012],[0.1713,0.245,0.012],[0.1719,0.322,0.016],[0.1729,0.237,0.014],[0.1738,0.191,0.010],[0.1716,0.212,0.012],[0.1754,0.333,0.016],[0.1761,0.376,0.020],[0.1767,0.243,0.012],[0.1786,0.277,0.012],[0.1808,0.236,0.010],[0.1837,0.348,0.016],[0.1840,0.215,0.010],[0.1847,0.253,0.022],[0.1850,0.225,0.012],[0.1863,0.202,0.012],[0.1888,0.225,0.012],[0.1888,0.208,0.012],[0.1904,0.294,0.016],[0.1920,0.238,0.018],[0.1920,0.199,0.012],[0.1939,0.253,0.012],[0.1945,0.204,0.012],[0.1958,0.205,0.012],[0.1971,0.195,0.012],[0.1971,0.174,0.012],[0.1996,0.201,0.018],[0.2041,0.172,0.012],[0.2054,0.184,0.012],[0.2063,0.185,0.014],[0.2073,0.212,0.024],[0.1840,0.157,0.008],[0.1872,0.146,0.008],[0.1907,0.146,0.006],[0.1971,0.131,0.010],[0.1977,0.115,0.010],[0.2041,0.109,0.008],[0.2047,0.125,0.008],[0.2063,0.109,0.010],[0.2111,0.140,0.010],[0.2117,0.121,0.010],[0.2127,0.137,0.010],[0.2137,0.131,0.010],[0.2143,0.124,0.010],[0.2149,0.090,0.010],[0.2159,0.079,0.010],[0.2168,0.124,0.010],[0.2175,0.112,0.010],[0.2181,0.108,0.010],[0.2159,0.212,0.010],[0.2191,0.101,0.010],[0.2207,0.063,0.010],[0.2216,0.084,0.010],[0.2223,0.092,0.010],[0.2232,0.084,0.010],[0.2245,0.077,0.010],[0.2255,0.060,0.010],[0.2258,0.099,0.010],[0.2270,0.078,0.010],[0.2280,0.081,0.010],[0.2286,0.067,0.012],[0.2296,0.062,0.010],[0.2302,0.063,0.010],[0.2312,0.050,0.010],[0.2315,0.093,0.010],[0.2321,0.056,0.012],[0.2328,0.047,0.016],[0.2334,0.060,0.010],[0.2340,0.090,0.012],[0.2350,0.093,0.010],[0.2360,0.062,0.010],[0.2044,0.018,0.040],[0.2111,0.005,0.008],[0.2111,-0.004,0.008],[0.2127,-0.002,0.008],[0.2159,0.000,0.008],[0.2398,0.050,0.012],[0.2414,0.041,0.012],[0.2423,0.056,0.012],[0.2430,0.033,0.012],[0.2436,0.108,0.026],[0.2446,0.048,0.012],[0.2462,0.041,0.012],[0.2478,0.060,0.012],[0.2484,0.045,0.012],[0.2487,0.012,0.014],[0.2493,0.048,0.012],[0.2500,0.035,0.012],[0.2509,0.030,0.012],[0.2519,0.047,0.012],[0.2525,0.022,0.014],[0.2535,0.032,0.012],[0.2551,0.043,0.012],[0.2564,0.030,0.012],[0.2567,0.077,0.040],[0.2576,0.017,0.014],[0.2589,0.026,0.014],[0.2605,0.033,0.012],[0.2614,-0.004,0.014],[0.2621,0.005,0.014],[0.2637,0.026,0.014],[0.2646,0.013,0.012],[0.2653,0.003,0.014],[0.2659,0.020,0.014],[0.2678,0.007,0.014],[0.2701,0.009,0.014],[0.2710,0.039,0.014],[0.2716,-0.002,0.016],[0.2723,0.018,0.014],[0.2732,0.002,0.016],[0.2748,0.009,0.014],[0.2764,0.005,0.016],[0.2774,0.018,0.014],[0.2787,-0.014,0.014],[0.2796,0.011,0.014],[0.2812,0.003,0.016],[0.2828,0.020,0.016],[0.2844,0.009,0.014],[0.2860,0.018,0.014],[0.2869,-0.015,0.014],[0.2876,0.000,0.016],[0.2882,0.007,0.014],[0.2901,0.026,0.020],[0.2908,0.005,0.014],[0.2914,0.032,0.022],[0.2924,0.017,0.016],[0.2933,0.009,0.014],[0.2940,0.022,0.016],[0.2949,0.003,0.014],[0.2959,-0.015,0.014],[0.2965,-0.004,0.016],[0.2971,0.005,0.014],[0.2987,-0.012,0.014],[0.2997,0.000,0.014]
];

// ---- drawing ---------------------------------------------------------------
Chart.defaults.font.family = '"DejaVu Sans", sans-serif';
Chart.defaults.font.size = 19;
Chart.defaults.color = '#000';

const FONT = '"DejaVu Sans", sans-serif';
const TICK_LEN = 6;

function fmtSigned(v, digits) {
  const s = Math.abs(v).toFixed(digits);
  return v < -1e-9 ? '\u2212' + s : s;
}

// keep the axes box at a fixed place: no extra room for edge tick labels
function fixHorizontal(height) {
  return s => { s.height = height; s.paddingLeft = 0; s.paddingRight = 0; };
}

// vertical error bars, drawn behind the markers and clipped to the axes box
const errorBars = {
  id: 'errorBars',
  beforeDatasetsDraw(chart) {
    const { ctx, chartArea: a, scales: { x, y } } = chart;
    ctx.save();
    ctx.beginPath();
    ctx.rect(a.left, a.top, a.right - a.left, a.bottom - a.top);
    ctx.clip();
    chart.data.datasets.forEach(ds => {
      ctx.strokeStyle = ds.errorColor;
      ctx.lineWidth = 1.5;
      ctx.beginPath();
      ds.data.forEach(p => {
        const px = x.getPixelForValue(p.x);
        ctx.moveTo(px, y.getPixelForValue(p.y - p.e));
        ctx.lineTo(px, y.getPixelForValue(p.y + p.e));
      });
      ctx.stroke();
    });
    ctx.restore();
  }
};

// frame, inward ticks on all four sides, panel label and axis titles
const panelDecor = {
  id: 'panelDecor',
  afterDraw(chart, args, o) {
    const { ctx, chartArea: a, scales } = chart;
    ctx.save();
    ctx.strokeStyle = '#000';
    ctx.lineWidth = 1;
    ctx.beginPath();
    scales.x.ticks.forEach(t => {
      const px = Math.round(scales.x.getPixelForValue(t.value)) + 0.5;
      ctx.moveTo(px, a.bottom); ctx.lineTo(px, a.bottom - TICK_LEN);
    });
    scales.x2.ticks.forEach(t => {
      const px = Math.round(scales.x2.getPixelForValue(t.value)) + 0.5;
      ctx.moveTo(px, a.top); ctx.lineTo(px, a.top + TICK_LEN);
    });
    scales.y.ticks.forEach(t => {
      const py = Math.round(scales.y.getPixelForValue(t.value)) + 0.5;
      ctx.moveTo(a.left, py); ctx.lineTo(a.left + TICK_LEN, py);
      ctx.moveTo(a.right, py); ctx.lineTo(a.right - TICK_LEN, py);
    });
    ctx.stroke();

    ctx.lineWidth = 1.6;
    ctx.strokeRect(a.left, a.top, a.right - a.left, a.bottom - a.top);
    ctx.beginPath();
    if (o.linkBelow) {
      ctx.moveTo(a.left, a.bottom); ctx.lineTo(a.left, chart.height);
      ctx.moveTo(a.right, a.bottom); ctx.lineTo(a.right, chart.height);
    }
    if (o.linkAbove) {
      ctx.moveTo(a.left, 0); ctx.lineTo(a.left, a.top);
      ctx.moveTo(a.right, 0); ctx.lineTo(a.right, a.top);
    }
    ctx.stroke();

    ctx.fillStyle = o.color;
    ctx.font = 'bold 22px ' + FONT;
    ctx.textAlign = 'left';
    ctx.textBaseline = 'middle';
    ctx.fillText(o.label, 209, a.top + 34.5);

    ctx.fillStyle = '#000';
    ctx.font = '19px ' + FONT;
    ctx.textAlign = 'center';
    const cx = (a.left + a.right) / 2;
    if (o.topTitle) ctx.fillText(o.topTitle, cx, 17);
    if (o.bottomTitle) ctx.fillText(o.bottomTitle, cx, chart.height - 12);
    if (o.yTitle) {
      ctx.translate(22, (a.top + a.bottom) / 2);
      ctx.rotate(-Math.PI / 2);
      ctx.fillText(o.yTitle, 0, 0);
    }
    ctx.restore();
  }
};

function buildPanel(id, points, color, errorColor, phaseRange, phaseTicks, phaseDigits, mjdRange, mjdTicks, decor) {
  return new Chart(document.getElementById(id), {
    type: 'scatter',
    data: {
      datasets: [{
        data: points.map(p => ({ x: p[0], y: p[1], e: p[2] })),
        xAxisID: 'x',
        yAxisID: 'y',
        pointRadius: 3,
        pointHoverRadius: 3,
        pointBorderWidth: 0,
        pointBackgroundColor: color,
        pointBorderColor: color,
        errorColor: errorColor,
        showLine: false
      }]
    },
    options: {
      responsive: false,
      animation: false,
      devicePixelRatio: 1,
      events: [],
      layout: { padding: { left: 0, right: 33, top: 0, bottom: 0 } },
      plugins: { legend: { display: false }, tooltip: { enabled: false }, panelDecor: decor },
      scales: {
        x: {
          type: 'linear', position: 'bottom',
          min: phaseRange[0], max: phaseRange[1],
          grid: { display: false, drawTicks: false },
          border: { display: false },
          afterBuildTicks: s => { s.ticks = phaseTicks.map(v => ({ value: v })); },
          afterFit: fixHorizontal(52),
          ticks: { autoSkip: false, maxRotation: 0, padding: 4, callback: v => fmtSigned(v, phaseDigits) }
        },
        x2: {
          type: 'linear', position: 'top',
          min: mjdRange[0], max: mjdRange[1],
          grid: { display: false, drawTicks: false },
          border: { display: false },
          afterBuildTicks: s => { s.ticks = mjdTicks.map(v => ({ value: v })); },
          afterFit: fixHorizontal(59),
          ticks: { autoSkip: false, maxRotation: 0, padding: 4, callback: v => String(v) }
        },
        y: {
          type: 'linear', position: 'left',
          min: -0.02, max: 0.45,
          grid: { display: false, drawTicks: false },
          border: { display: false },
          afterBuildTicks: s => { s.ticks = rateTicks.map(v => ({ value: v })); },
          afterFit: s => { s.width = 93; s.paddingTop = 0; s.paddingBottom = 0; },
          ticks: { padding: 8, callback: v => v.toFixed(1) }
        }
      }
    },
    plugins: [errorBars, panelDecor]
  });
}

buildPanel('panelJanFeb', janFebPoints, '#008000', 'rgba(0,128,0,0.6)',
  [-0.14, 0.12], phaseTicksNarrow, 2, [55920, 56000], mjdTicksJanFeb,
  { label: 'Jan - Feb 2012', color: '#008000', topTitle: 'Time [MJD]', linkBelow: true });

buildPanel('panelMayJun', mayJunPoints, '#0000ff', 'rgba(0,0,255,0.6)',
  [-0.14, 0.12], phaseTicksNarrow, 2, [56050, 56140], mjdTicksMayJun,
  { label: 'May - Jun 2012', color: '#0000ff', yTitle: 'BAT cts/s/cm\u00b2', linkAbove: true, linkBelow: true });

buildPanel('panelSepNov', sepNovPoints, '#ff0000', 'rgba(255,0,0,0.6)',
  [-0.35, 0.30], phaseTicksWide, 1, [56180, 56270], mjdTicksSepNov,
  { label: 'Sep - Nov 2012', color: '#ff0000', bottomTitle: 'Orbital Phase', linkAbove: true });
</script>
</body>
</html>
